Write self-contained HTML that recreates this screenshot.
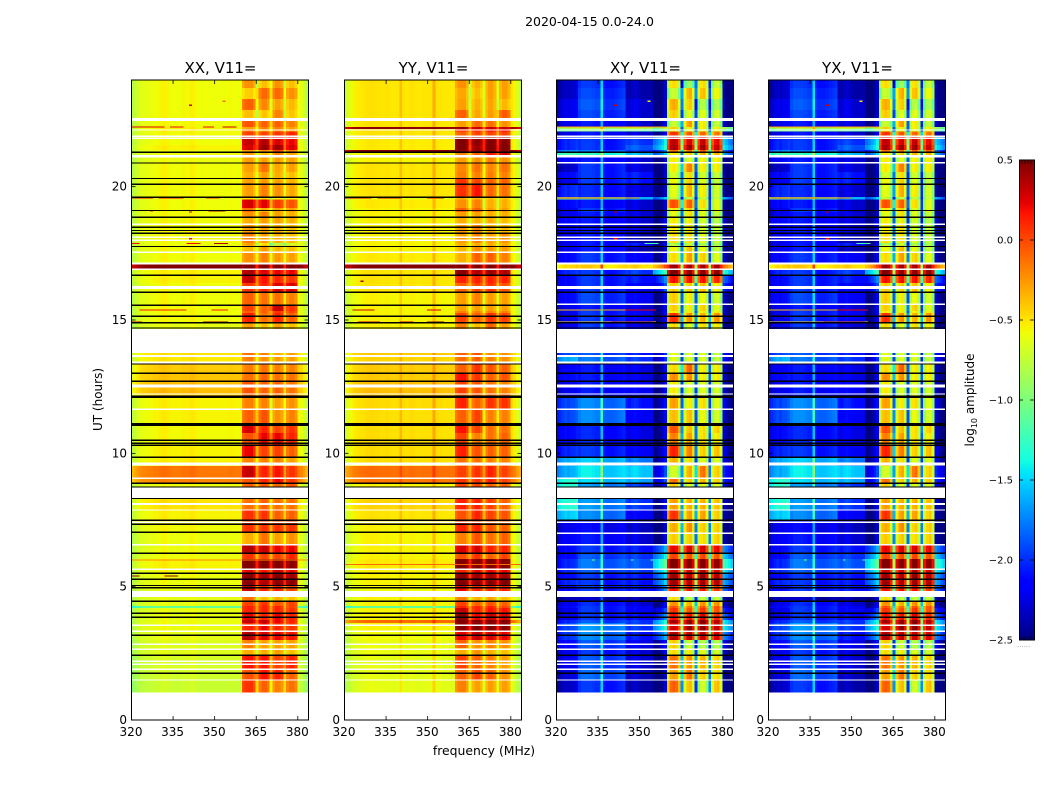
<!DOCTYPE html>
<html lang="en">
<head>
<meta charset="utf-8">
<title>2020-04-15 0.0-24.0</title>
<style>
html,body{margin:0;padding:0;background:#fff;}
svg{display:block;}
text{font-family:"DejaVu Sans","Liberation Sans",sans-serif;fill:#000;}
</style>
</head>
<body>
<svg id="chart" width="1050" height="800" viewBox="0 0 1050 800" xmlns="http://www.w3.org/2000/svg">
<text x="589.5" y="26" font-size="12.5" text-anchor="middle">2020-04-15 0.0-24.0</text>
<text x="0" y="0" font-size="12" text-anchor="middle" transform="translate(102,399.5) rotate(-90)">UT (hours)</text>
<text x="484" y="755" font-size="12.4" text-anchor="middle">frequency (MHz)</text>
<text x="0" y="0" font-size="12" text-anchor="middle" transform="translate(974,400) rotate(-90)">log<tspan font-size="8" dy="3">10</tspan><tspan dy="-3"> amplitude</tspan></text>
<text x="1017" y="647" font-size="7" fill="#999" style="fill:#999">......</text>
</svg>
<script>
var panelTitles = ["XX, V11=", "YY, V11=", "XY, V11=", "YX, V11="];
var xTickValues = [320, 335, 350, 365, 380];
var yTickValues = [0, 5, 10, 15, 20];
var colorbarTickValues = [0.5, 0, -0.5, -1, -1.5, -2, -2.5];
var channelsMHz = 64;
var dataEndUT = 1.05;

// Upper edge (UT hours) of each observed time band, top of the plot downward.
var bandTopsUT = [24,23.7,23.29,22.875,22.575,22.24,22.16,22.07,21.9,21.56,21.375,21.26,21.11,20.89,20.55,20.325,20.1,19.61,19.52,19.2,19.05,18.86,18.6,18.26,17.89,17.79,17.55,17.08,16.92,16.69,16.39,16.05,15.56,15.34,15.26,14.925,14.87,13.77,13.62,13.36,13.01,12.71,12.225,12.11,11.66,11.14,10.76,10.31,9.86,9.525,9.06,8.89,8.31,7.875,7.5,7.05,6.6,6.26,6.04,5.66,5.51,5.29,5.025,4.61,4.46,4.275,4.2,4.01,3.75,3.64,3.34,3,2.7,2.44,1.91,1.5];

// Parallel hands: [out-of-band, sub-band 1, 2, 3, 4] log10 amplitude per time band.
var xxLevels = [
[-.58,-.25,-.4,-.25,-.4],[-.58,-.45,-.12,-.12,-.25],[-.58,-.1,-.22,-.3,-.38],[-.58,-.4,-.42,-.2,-.42],[-.58,-.05,-.1,-.1,-.2],
[-.55,-.3,-.2,-.2,-.3],[-.55,-.2,-.3,-.2,-.3],[-.58,0,0,.05,.1],[-.58,.3,.35,.25,.2],[-.55,.25,.4,.4,.25],
[-.6,-.3,-.25,0,-.2],[-.6,-.3,-.4,-.2,-.3],[-.6,-.3,-.3,-.3,-.3],[-.58,-.3,-.15,-.32,-.3],[-.58,-.35,-.3,-.35,-.4],
[-.58,-.3,-.28,-.3,-.35],[-.58,-.3,-.2,-.25,-.32],[-.62,-.5,-.5,-.55,-.55],[-.58,.25,.22,.02,-.05],[-.58,-.15,-.35,-.3,-.3],
[-.58,-.25,-.2,-.3,-.35],[-.58,-.35,-.3,-.3,-.35],[-.58,-.3,-.3,-.35,-.38],[-.58,-.2,-.3,-.35,-.38],[-.6,-.3,-.5,-.8,-.7],
[-.58,-.4,-.3,-.38,-.4],[-.58,-.25,-.2,-.28,-.3],[.5,.5,.5,.5,.5],[-.55,.35,.25,.2,.2],[-.55,.3,.15,.1,.05],
[-.58,.05,.1,.25,.25],[-.58,-.1,-.15,-.15,-.2],[-.58,0,-.1,.3,.05],[-.58,-.1,-.1,.05,0],[-.58,.1,-.15,.1,-.1],
[-.6,.1,-.1,.1,0],[-.62,-.3,-.4,-.3,-.4],[-.5,-.15,-.2,-.35,-.3],[-.52,-.2,-.25,-.3,-.3],[-.42,-.2,-.15,-.2,-.2],
[-.4,-.15,-.1,-.15,-.15],[-.38,-.05,-.1,-.1,-.15],[-.45,-.1,-.1,-.2,-.2],[-.55,-.2,-.2,-.3,-.25],[-.55,-.1,-.05,-.25,-.2],
[-.57,.25,.1,0,.05],[-.57,-.05,.2,.2,.1],[-.55,.2,0,0,-.1],[-.55,-.2,-.2,-.2,-.3],[-.15,.3,.1,.15,.05],
[-.2,-.05,.1,.2,.05],[-.6,-.1,-.05,-.1,-.05],[-.5,-.15,-.1,-.15,-.15],[-.55,.05,.05,-.1,-.1],[-.58,.05,.05,.05,.05],
[-.6,-.35,-.15,-.3,-.25],[-.6,.35,.3,.2,.2],[-.6,.05,0,0,.1],[-.55,.5,.5,.5,.45],[-.58,.2,.15,.3,.2],
[-.6,.45,.4,.5,.4],[-.6,.45,.35,.45,.45],[-.62,.3,.1,.1,0],[-.62,-.15,-.4,-.35,-.4],[-.62,0,.05,-.05,0],
[-1.1,.1,.1,.1,0],[-.62,.1,.1,.1,.05],[-.62,.2,.1,.2,.1],[-.6,.3,.3,.2,.1],[-.6,.1,.2,.1,.05],
[-.62,.35,.25,.2,.15],[-.65,-.2,-.3,-.3,-.3],[-.65,-.35,-.35,-.3,-.4],[-.68,.15,.15,0,.1],[-.7,-.05,.15,.1,-.1],
[-.72,.05,-.1,-.2,-.15]];
var yyLevels = [
[-.5,-.25,-.35,-.3,-.3],[-.5,-.32,-.4,-.3,-.3],[-.5,-.3,-.35,-.32,-.38],[-.5,-.1,-.32,-.3,-.08],[-.5,-.3,-.12,-.15,-.25],
[.45,.45,.3,.3,.3],[-.48,.1,.1,.2,.2],[-.5,-.1,0,0,0],[-.52,.5,.45,.5,.45],[-.52,.5,.4,.5,.5],
[.5,.5,.5,.5,.5],[-.55,-.2,-.1,.15,.25],[-.55,-.3,-.25,-.2,-.25],[-.5,-.22,-.15,-.22,-.15],[-.5,-.2,-.2,-.2,-.2],
[-.5,.05,0,-.1,-.1],[-.5,.05,.15,-.12,-.15],[-.6,-.35,-.35,-.4,-.4],[-.52,-.25,-.2,-.35,-.35],[-.55,-.1,-.1,-.3,-.3],
[-.55,-.3,-.3,-.35,-.35],[-.55,-.35,-.35,-.35,-.4],[-.55,-.3,-.2,-.35,-.38],[-.55,-.3,-.2,-.3,-.25],[-.55,-.35,-.35,-.35,-.35],
[-.55,-.38,-.25,-.3,-.3],[-.52,-.35,-.1,-.1,-.2],[.5,.5,.5,.5,.5],[-.5,.45,.35,.4,.35],[-.5,.1,.1,.1,.1],
[-.5,-.1,0,.05,-.05],[-.55,-.3,-.2,-.3,-.3],[-.55,-.3,-.3,-.3,-.3],[-.55,-.2,-.2,-.2,-.2],[-.55,0,-.1,.05,0],
[-.55,0,-.1,.05,0],[-.55,-.2,-.4,-.1,-.3],[-.42,-.1,-.05,-.25,-.25],[-.45,-.15,-.1,-.2,-.25],[-.42,-.1,.05,-.05,-.1],
[-.42,.15,.05,-.1,-.05],[-.38,0,-.05,-.15,-.2],[-.42,-.1,-.05,-.1,-.1],[-.47,.1,-.1,.05,.05],[-.48,-.1,0,-.2,-.2],
[-.48,.15,0,-.15,-.15],[-.48,0,-.2,-.15,-.1],[-.48,.1,-.05,-.1,-.1],[-.48,-.15,-.15,-.2,-.2],[-.12,0,.05,.1,0],
[-.15,.05,.05,.1,0],[-.55,0,0,-.1,-.1],[-.45,.1,.1,0,-.1],[-.5,-.05,.1,0,-.05],[-.55,.1,.1,-.05,-.1],
[-.55,-.2,-.05,-.15,-.1],[-.55,.25,.25,.1,.1],[-.55,-.05,.05,-.1,0],[-.52,.5,.5,.5,.5],[-.55,.1,.2,.2,.2],
[-.55,.45,.4,.4,.4],[-.55,.5,.45,.45,.5],[-.58,.2,.1,.1,.1],[-.55,-.2,-.35,-.3,-.4],[-.55,0,-.1,-.05,-.1],
[-1.1,.1,.1,.1,0],[-.55,.3,.1,.15,.15],[-.55,.45,.2,.3,.25],[-.1,.5,.5,.5,.5],[-.55,.45,.5,.5,.45],
[-.58,.2,.3,.25,.2],[-.6,-.1,-.25,-.2,-.25],[-.6,-.35,-.25,-.35,-.4],[-.62,0,-.1,-.2,-.3],[-.62,-.1,0,-.1,-.25],
[-.62,-.2,-.3,-.3,-.3]];
// Cross hands (XY and YX read the same): [320-328, 328-345, 345-355, 355-360 + above 380, sub-band 1, 2, 3, 4].
var crossLevels = [
[-2.3,-2,-2.3,-2.4,-.55,-.95,-.55,-.8],[-2.3,-1.95,-2.3,-2.4,-.8,-.4,-.45,-.65],[-2.2,-1.9,-2.2,-2.4,-.4,-.5,-.85,-.9],[-2.2,-1.95,-2.2,-2.4,-.5,-.7,-.7,-.75],[-2.2,-2.1,-2.2,-2.3,-.8,-.35,-.6,-.8],
[-.8,-.8,-.7,-.8,-.5,-.6,-.6,-.6],[-1,-1,-1,-1,-.7,-.7,-.7,-.7],[-2.2,-2.1,-2.2,-2.3,0,-.1,-.15,-.2],[-2,-2,-1.9,-1.5,.25,.2,.25,.15],[-2,-2,-1.8,-1.4,.3,.35,.35,.25],
[-1.7,-1.8,-1.9,-1.8,-.2,-.2,-.1,-.1],[-1.2,-1.3,-1.5,-1.6,-.6,-.5,-.4,-.4],[-2.1,-2.1,-2.2,-2.4,-.6,-.7,-.6,-.6],[-2.3,-2,-2.2,-2.4,-.6,-.25,-.6,-.6],[-2.1,-2,-2,-2.4,-.75,-.55,-.75,-.8],
[-2.2,-2,-2,-2.4,-.65,-.5,-.7,-.8],[-2,-2.05,-2.2,-2.4,-.7,-.4,-.6,-.75],[-1,-1.2,-1.5,-1.6,-.8,-.8,-.8,-.8],[-2.1,-2.1,-2.2,-2.4,-.1,-.15,-.55,-.7],[-2.2,-2,-2.2,-2.4,-.6,-.5,-.7,-.7],
[-2.2,-2.1,-2.2,-2.4,-.7,-.55,-.7,-.8],[-2.1,-2.1,-2.2,-2.3,-.6,-.6,-.75,-.85],[-2.1,-2.1,-2.2,-2.3,-.6,-.55,-.75,-.8],[-2.2,-2.1,-2.3,-2.4,-.55,-.55,-.7,-.8],[-2.2,-2.1,-2,-2.3,-.9,-.8,-.9,-.9],
[-2.2,-2.1,-2.3,-2.4,-.65,-.45,-.65,-.8],[-2.1,-2,-2.1,-2.3,-.55,-.35,-.5,-.7],[-.45,-.45,-.4,-.1,.35,.35,.35,.35],[-2,-2,-1.9,-1.3,.45,.4,.4,.4],[-2.1,-2,-2,-1.8,.1,.1,.1,.05],
[-2.1,-2,-2.1,-2,-.5,-.5,-.45,-.6],[-2.1,-1.95,-2.1,-2.3,-.5,-.6,-.65,-.75],[-2.2,-2.1,-2.2,-2.3,-.5,-.6,-.5,-.7],[-2.2,-2,-2.1,-2.3,-.6,-.6,-.6,-.6],[-2.2,-2,-2.1,-2.3,0,-.3,-.4,-.3],
[-1,-1,-1.2,-1.5,-.3,-.5,-.5,-.4],[-2.2,-2,-2.2,-2.4,-.55,-.7,-.55,-.6],[-1.9,-1.9,-2,-2.1,-.7,-.7,-.7,-.8],[-1.6,-1.8,-1.9,-2.1,-.7,-.7,-.7,-.8],[-2.15,-2.1,-2.15,-2.3,-.55,-.15,-.6,-.6],
[-2.1,-2.1,-2.15,-2.3,-.3,-.3,-.6,-.6],[-2.2,-2.1,-2.1,-2.3,-.6,-.7,-.7,-.75],[-2.2,-2.1,-2.2,-2.3,-.6,-.7,-.7,-.75],[-1.9,-1.75,-2,-2.2,-.35,-.6,-.55,-.7],[-1.9,-1.75,-2.1,-2.3,-.45,-.45,-.65,-.75],
[-2.1,-2.05,-2.15,-2.3,-.1,-.45,-.55,-.5],[-2.1,-2.05,-2.15,-2.3,-.25,-.35,-.55,-.6],[-2,-2,-2.1,-2.2,.05,-.25,-.5,-.45],[-1.6,-1.55,-1.7,-2.2,-.4,-.55,-.7,-.7],[-1.6,-1.45,-1.45,-2,-.75,-.4,-.2,-.5],
[-1.3,-1.5,-1.55,-2,-.2,-.5,-.4,-.5],[-1.3,-1.7,-1.9,-2.2,-.5,-.7,-.7,-.7],[-1.3,-1.7,-1.9,-2.3,-.35,-.4,-.4,-.45],[-1.5,-1.75,-2.1,-2.35,0,-.35,-.35,-.5],[-2.2,-2.15,-2.25,-2.4,-.4,-.3,-.5,-.5],
[-2.15,-2.1,-2.2,-2.35,-.5,-.5,-.55,-.5],[-2.1,-2,-2,-1.7,.15,.2,.2,.15],[-2.1,-1.9,-1.9,-1.5,-.05,-.1,-.05,-.1],[-2,-1.8,-1.8,-1.2,.45,.45,.45,.4],[-2,-1.9,-1.9,-1.4,.2,.2,.3,.2],
[-2.1,-2,-2,-1.6,.35,.3,.4,.3],[-2,-2,-2,-1.6,.35,.3,.35,.3],[-2.1,-2,-2,-1.8,.1,.1,.1,0],[-2.35,-2.35,-2.35,-2.35,-.55,-.8,-.8,-.8],[-2.2,-2.05,-2.2,-2.3,-.3,-.4,-.3,-.3],
[-2.1,-2,-2.1,-2.2,-.1,-.2,-.1,-.1],[-2.2,-2,-2.1,-2,0,-.1,0,-.1],[-2.2,-2,-2.05,-1.8,.1,.1,.2,.05],[-2,-1.9,-1.9,-1.4,.35,.4,.45,.3],[-1.9,-1.7,-1.9,-1.4,.2,.4,.4,.25],
[-1.95,-1.75,-2,-1.7,.3,.25,.25,.2],[-2.1,-1.9,-2.15,-2.2,-.5,-.75,-.85,-.85],[-2.2,-2,-2.2,-2.3,-.55,-.6,-.7,-.75],[-2.2,-1.9,-2.2,-2.4,-.2,-.3,-.4,-.5],[-2.25,-1.85,-2.25,-2.4,-.35,-.2,-.5,-.55],
[-2.3,-2,-2.3,-2.4,-.15,-.45,-.75,-.45]];

// Per-channel spectral ripple (dex) added to the band level, 320..383 MHz.
var xxRipple = [-.22,-.16,-.1,-.06,-.04,-.03,-.02,-.02,0,0,.02,.04,.04,.02,0,0,0,0,.02,.02,.01,.04,.04,.01,0,0,0,0,0,0,0,0,0,0,0,.01,.01,0,0,0,-.05,.02,.03,.03,-.08,-.35,-.06,.03,.03,-.05,-.35,-.05,.03,.03,-.05,-.33,-.05,.03,.03,-.05,0,-.04,-.12,-.2];
var yyRipple = [-.2,-.15,-.1,-.05,-.03,-.02,-.01,0,.01,.02,.02,.01,.01,0,0,.01,0,-.01,-.01,0,.12,0,-.01,0,.01,0,-.01,-.01,0,0,0,0,.18,.01,0,0,-.01,-.01,-.01,-.01,-.05,.02,.03,.03,-.08,-.35,-.06,.03,.03,-.05,-.35,-.05,.03,.03,-.05,-.33,-.05,.03,.03,-.05,0,-.05,-.15,-.2];
var crossRipple = [-.15,-.1,-.05,0,-.05,0,0,.05,0,.05,.05,.05,.05,.03,0,0,.5,-.08,-.1,-.1,-.1,-.08,-.05,-.03,0,-.05,-.08,-.03,0,-.03,-.08,-.1,-.1,-.1,-.1,-.3,-.25,-.15,-.05,.1,-.25,.05,.1,.05,-.2,-1.25,-.2,.05,.1,-.2,-1.25,-.2,.05,.1,-.2,-1.25,-.2,.05,.1,-.2,0,-.1,-.2,-.3];

// Flagged data: white = no data, black = masked integrations.
var whiteWideUT = [[21.19,21.09],[17.16,17.08],[14.67,13.77],[13.69,13.62],[13.44,13.36],[9.66,9.54],[8.71,8.31],[8.14,8.07],[4.83,4.61],[2.87,2.81]];
var whiteThinUT = [22.55,22.49,22.125,21.89,21.81,18.59,18.1,17.99,17.54,16.9,16.25,16.19,12.56,12.5,12.225,11.65,9.06,7.875,7.41,6.57,5.66,3.55,3.33,2.65,2.21,2.09,1.9,1.5];
var crossExtraWhiteUT = [20.9,15.59,7];
var parallelBlackUT = [21.29,20.89,20.31,20.09,19.6,19.11,18.85,18.48,18.36,18.25,17.76,16.68,16.04,15.55,15.14,14.9,14.7,13.35,13,12.7,12.14,12.1,11.11,11.05,10.49,10.38,10.3,9.85,8.88,8.74,8.31,7.49,7.34,7.04,6.25,5.5,5.28,5.04,4.96,4.45,4,3.85,3.18,2.43,1.75];
var crossBlackUT = [21.29,20.31,20.09,19.11,18.85,18.48,18.36,18.25,17.76,16.68,16.04,15.14,14.9,14.7,13.35,13,12.7,12.14,12.1,11.11,11.05,10.49,10.38,10.3,9.85,8.88,8.74,8.31,7.49,6.25,5.5,5.28,5.04,4.96,4.45,4,3.85,3.18,2.43,1.75];

// Narrow interference tracks: [UT, from MHz, to MHz, log10 amplitude].
var xxTracks = [[22.24,320,332,.25],[22.24,334,339,.2],[22.24,346,350,.2],[22.24,353,358,.3],[22.13,322,330,.1],[22.13,340,344,.2],[22.13,350,356,.2],[19.57,320,328,.2],[19.57,330,339,.2],[19.57,347,352,.1],[19.09,348,354,.45],[19.09,327,328,.3],[17.87,320,323,.2],[17.87,340,345,.2],[17.87,350,355,.35],[15.37,323,340,.15],[15.37,349,355,.15],[14.93,320,324,.3],[14.93,346,355,.5],[6,320,384,-.2],[5.4,320,323,.45],[5.4,332,337,.45],[23.05,341,342,.3],[23.2,353,354,-.1],[19.05,341,342,.35],[18.85,341,342,.35],[18.05,341,342,.2]];
var yyTracks = [[19.57,320,330,.3],[19.57,332,341,.3],[19.57,350,356,.2],[15.37,323,331,.3],[15.37,350,355,.3],[14.93,325,333,.35],[14.93,340,345,.35],[14.93,350,356,.5],[5.83,320,384,-.1],[16.45,326,327,.4]];
var crossTracks = [[19.57,320,350,0],[17.87,352,357,-1.2],[22.24,320,360,-.3],[15.37,320,345,-.4],[15.37,345,356,.2],[14.93,320,356,-.5],[14.93,340,355,-.1],[5.66,320,356,-.7],[23.05,341,342,.3],[23.2,353,354,-.5],[19.05,341,342,.4],[18.85,341,342,.3],[18.05,341,342,.2],[6,333,334,-1],[6,347,348,-1],[6,354,355,-1]];

var parallelSegmentEdges = [320,360,365,370,375,380,384];
var parallelSegmentIndex = [0,1,2,3,4,0];
var crossSegmentEdges = [320,328,345,355,360,365,370,375,380,384];
var crossSegmentIndex = [0,1,2,3,4,5,6,7,3];

var svgNS = "http://www.w3.org/2000/svg";
var svg = document.getElementById("chart");
var axisTop = 80, axisBottom = 720, pxPerMHz = 2.772, axisWidth = 177;
var panelLefts = [131, 344, 556, 768];

function yScale(ut) { return axisBottom - ut * (axisBottom - axisTop) / 24; }
function xScale(mhz, left) { return left + (mhz - 320) * pxPerMHz; }
function interp(v, pts) {
  for (var i = 1; i < pts.length; i++) {
    if (v <= pts[i][0]) {
      return pts[i-1][1] + (v - pts[i-1][0]) * (pts[i][1] - pts[i-1][1]) / (pts[i][0] - pts[i-1][0]);
    }
  }
  return pts[pts.length-1][1];
}
function jet(level) {
  var t = Math.max(0, Math.min(1, (level + 2.5) / 3));
  var r = interp(t, [[0,0],[.35,0],[.66,1],[.89,1],[1,.5]]);
  var g = interp(t, [[0,0],[.125,0],[.375,1],[.64,1],[.91,0],[1,0]]);
  var b = interp(t, [[0,.5],[.11,1],[.34,1],[.65,0],[1,0]]);
  return "rgb(" + Math.round(r*255) + "," + Math.round(g*255) + "," + Math.round(b*255) + ")";
}
function segmentOf(mhz, edges) {
  for (var i = 1; i < edges.length; i++) { if (mhz < edges[i]) return i - 1; }
  return edges.length - 2;
}
function rectEl(parent, x, y, w, h, fill) {
  var el = document.createElementNS(svgNS, "rect");
  el.setAttribute("x", x.toFixed(2));
  el.setAttribute("y", y.toFixed(2));
  el.setAttribute("width", w.toFixed(2));
  el.setAttribute("height", h.toFixed(2));
  el.setAttribute("fill", fill);
  parent.appendChild(el);
  return el;
}
function lineEl(parent, x1, y1, x2, y2, stroke, width) {
  var el = document.createElementNS(svgNS, "line");
  el.setAttribute("x1", x1);
  el.setAttribute("y1", y1);
  el.setAttribute("x2", x2);
  el.setAttribute("y2", y2);
  el.setAttribute("stroke", stroke);
  el.setAttribute("stroke-width", width);
  parent.appendChild(el);
  return el;
}
function textEl(parent, x, y, str, size, anchor) {
  var el = document.createElementNS(svgNS, "text");
  el.setAttribute("x", x);
  el.setAttribute("y", y);
  el.setAttribute("font-size", size);
  el.setAttribute("text-anchor", anchor);
  el.textContent = str;
  parent.appendChild(el);
  return el;
}

function drawPanel(p) {
  var left = panelLefts[p];
  var isCross = p >= 2;
  var levels = p === 0 ? xxLevels : p === 1 ? yyLevels : crossLevels;
  var ripple = p === 0 ? xxRipple : p === 1 ? yyRipple : crossRipple;
  var tracks = p === 0 ? xxTracks : p === 1 ? yyTracks : crossTracks;
  var edges = isCross ? crossSegmentEdges : parallelSegmentEdges;
  var segIndex = isCross ? crossSegmentIndex : parallelSegmentIndex;
  var g = document.createElementNS(svgNS, "g");
  
  
  g.setAttribute("shape-rendering", "crispEdges");
  svg.appendChild(g);

  for (var b = 0; b < bandTopsUT.length; b++) {
    var yTop = yScale(bandTopsUT[b]);
    var utEnd = b + 1 < bandTopsUT.length ? bandTopsUT[b + 1] : dataEndUT;
    var yBot = yScale(utEnd);
    for (var c = 0; c < channelsMHz; c++) {
      var mhz = 320 + c;
      var level = levels[b][segIndex[segmentOf(mhz + 0.01, edges)]] + ripple[c];
      var x0 = xScale(mhz, left);
      var cell = rectEl(g, x0, yTop, pxPerMHz + 0.3, yBot - yTop + 0.3, jet(level));
      
      
    }
  }
  tracks.forEach(function (t) {
    var tr = rectEl(g, xScale(t[1], left), yScale(t[0]) - 0.6, (t[2] - t[1]) * pxPerMHz, 1.2, jet(t[3]));
    
    
  });
  whiteWideUT.forEach(function (w) {
    var el = rectEl(g, left, yScale(w[0]), axisWidth, yScale(w[1]) - yScale(w[0]), "#fff");
    
    
  });
  whiteThinUT.concat(isCross ? crossExtraWhiteUT : []).forEach(function (ut) {
    var el = rectEl(g, left, yScale(ut) - 0.7, axisWidth, 1.4, "#fff");
    
    
  });
  (isCross ? crossBlackUT : parallelBlackUT).forEach(function (ut) {
    var el = rectEl(g, left, yScale(ut) - 0.6, axisWidth, 1.2, "#000");
    
    
  });

  var frame = document.createElementNS(svgNS, "rect");
  frame.setAttribute("x", left + 0.5);
  frame.setAttribute("y", axisTop);
  frame.setAttribute("width", axisWidth);
  frame.setAttribute("height", axisBottom - axisTop);
  frame.setAttribute("fill", "none");
  frame.setAttribute("stroke", "#000");
  frame.setAttribute("stroke-width", "1");
  
  
  svg.appendChild(frame);

  var title = textEl(svg, left + axisWidth / 2 + 1, 73, panelTitles[p], 15, "middle");
  
  

  xTickValues.forEach(function (v) {
    var x = xScale(v, left) + 0.5;
    var t1 = lineEl(svg, x, axisBottom, x, axisBottom - 4, "#000", 0.8);
    
    
    var t2 = lineEl(svg, x, axisTop, x, axisTop + 4, "#000", 0.8);
    
    
    var lab = textEl(svg, x - 0.5, 736, String(v), 12, "middle");
    
    
  });
  yTickValues.forEach(function (v) {
    var y = yScale(v);
    var t1 = lineEl(svg, left + 0.5, y, left + 4.5, y, "#000", 0.8);
    
    
    var t2 = lineEl(svg, left + axisWidth + 0.5, y, left + axisWidth - 3.5, y, "#000", 0.8);
    
    
    var lab = textEl(svg, left - 4, y + 4, String(v), 12, "end");
    
    
  });
}
for (var panelIdx = 0; panelIdx < 4; panelIdx++) drawPanel(panelIdx);

// Colorbar
var cbLeft = 1019, cbWidth = 15, cbTop = 160, cbBottom = 640;
function cbScale(level) { return cbBottom - (level + 2.5) * (cbBottom - cbTop) / 3; }
var cbGroup = document.createElementNS(svgNS, "g");


cbGroup.setAttribute("shape-rendering", "crispEdges");
svg.appendChild(cbGroup);
for (var swatchIdx = 0; swatchIdx < 240; swatchIdx++) {
  var swatchLevel = -2.5 + swatchIdx * 3 / 240;
  var sw = rectEl(cbGroup, cbLeft, cbScale(swatchLevel + 3 / 240), cbWidth, 2.3, jet(swatchLevel + 1.5 / 240));
  
  
}
var cbFrame = document.createElementNS(svgNS, "rect");
cbFrame.setAttribute("x", cbLeft + 0.5);
cbFrame.setAttribute("y", cbTop);
cbFrame.setAttribute("width", cbWidth);
cbFrame.setAttribute("height", cbBottom - cbTop);
cbFrame.setAttribute("fill", "none");
cbFrame.setAttribute("stroke", "#000");
cbFrame.setAttribute("stroke-width", "1");


svg.appendChild(cbFrame);
colorbarTickValues.forEach(function (v) {
  var y = cbScale(v);
  var a = lineEl(svg, cbLeft, y, cbLeft + 4, y, "#000", 0.8);
  
  
  var b = lineEl(svg, cbLeft + cbWidth, y, cbLeft + cbWidth - 4, y, "#000", 0.8);
  
  
  var str = (v < 0 ? "\u2212" : "") + Math.abs(v).toFixed(1);
  var lab = textEl(svg, 1013, y + 3.5, str, 10, "end");
  
  
});
for (var minorIdx = 1; minorIdx <= 4; minorIdx++) {
  var minorX = cbLeft + minorIdx * 3;
  var minorTop = lineEl(svg, minorX, cbTop, minorX, cbTop + 4, "#000", 0.7);
  
  
  var minorBottom = lineEl(svg, minorX, cbBottom, minorX, cbBottom - 4, "#000", 0.7);
  
  
}
</script>
</body>
</html>
